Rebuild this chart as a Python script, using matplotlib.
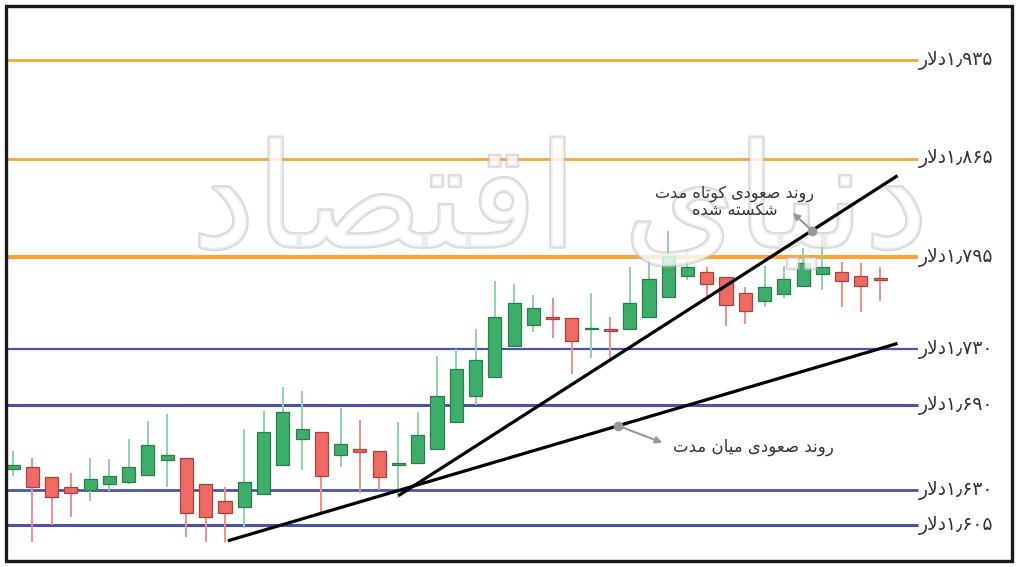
import numpy as np
import matplotlib.pyplot as plt
import matplotlib.patheffects as pe
from matplotlib.patches import Rectangle

plt.rcParams['font.family'] = ['DejaVu Sans']

# candle data (price in dollars)
opens  = [1.645, 1.646, 1.639, 1.632, 1.630, 1.634, 1.636, 1.641, 1.651, 1.653,
          1.634, 1.622, 1.618, 1.627, 1.648, 1.666, 1.671, 1.655, 1.659, 1.658,
          1.648, 1.649, 1.659, 1.678, 1.697, 1.710, 1.732, 1.747, 1.753, 1.752,
          1.744, 1.744, 1.744, 1.753, 1.767, 1.782, 1.785, 1.781, 1.770, 1.764,
          1.769, 1.775, 1.783, 1.785, 1.782, 1.7795]
highs  = [1.658, 1.653, 1.639, 1.642, 1.653, 1.652, 1.666, 1.679, 1.684, 1.653,
          1.634, 1.632, 1.673, 1.686, 1.703, 1.700, 1.671, 1.688, 1.680, 1.658,
          1.678, 1.685, 1.725, 1.730, 1.744, 1.778, 1.776, 1.768, 1.766, 1.752,
          1.770, 1.753, 1.788, 1.795, 1.814, 1.800, 1.788, 1.781, 1.774, 1.789,
          1.789, 1.802, 1.807, 1.792, 1.791, 1.788]
lows   = [1.640, 1.593, 1.605, 1.611, 1.622, 1.629, 1.634, 1.641, 1.632, 1.597,
          1.593, 1.593, 1.603, 1.627, 1.648, 1.644, 1.614, 1.646, 1.628, 1.630,
          1.624, 1.649, 1.659, 1.678, 1.690, 1.710, 1.732, 1.742, 1.738, 1.712,
          1.724, 1.724, 1.744, 1.753, 1.767, 1.779, 1.766, 1.746, 1.748, 1.760,
          1.766, 1.775, 1.772, 1.760, 1.756, 1.764]
closes = [1.648, 1.632, 1.625, 1.628, 1.638, 1.640, 1.646, 1.662, 1.655, 1.614,
          1.611, 1.614, 1.636, 1.671, 1.685, 1.673, 1.640, 1.663, 1.657, 1.639,
          1.649, 1.669, 1.697, 1.716, 1.722, 1.753, 1.763, 1.759, 1.751, 1.736,
          1.745, 1.743, 1.763, 1.780, 1.796, 1.788, 1.776, 1.761, 1.757, 1.774,
          1.780, 1.791, 1.788, 1.778, 1.775, 1.779]

levels = [1.935, 1.865, 1.795, 1.730, 1.690, 1.630, 1.605]
level_colors = ['#F9A53D', '#F9A53D', '#F9A53D', '#4B54A9', '#4B54A9', '#4B54A9', '#4B54A9']
level_widths = [2.0, 2.0, 3.0, 1.6, 2.2, 2.0, 2.2]

# trend lines (candle index, price)
short_x, short_y = [20.0, 45.9], [1.626, 1.853]
mid_x, mid_y = [11.15, 45.9], [1.594, 1.734]

# --- minimal persian shaping (matplotlib draws glyphs left to right, unjoined) ---
FORMS = {
    'ا': ('\uFE8D', '\uFE8E'), 'د': ('\uFEA9', '\uFEAA'),
    'ر': ('\uFEAD', '\uFEAE'), 'و': ('\uFEED', '\uFEEE'),
    '\uFEFB': ('\uFEFB', '\uFEFC'),
    'ن': ('\uFEE5', '\uFEE6', '\uFEE7', '\uFEE8'),
    'ص': ('\uFEB9', '\uFEBA', '\uFEBB', '\uFEBC'),
    'ع': ('\uFEC9', '\uFECA', '\uFECB', '\uFECC'),
    'ت': ('\uFE95', '\uFE96', '\uFE97', '\uFE98'),
    'ه': ('\uFEE9', '\uFEEA', '\uFEEB', '\uFEEC'),
    'م': ('\uFEE1', '\uFEE2', '\uFEE3', '\uFEE4'),
    'ش': ('\uFEB5', '\uFEB6', '\uFEB7', '\uFEB8'),
    'س': ('\uFEB1', '\uFEB2', '\uFEB3', '\uFEB4'),
    'ل': ('\uFEDD', '\uFEDE', '\uFEDF', '\uFEE0'),
    'ق': ('\uFED5', '\uFED6', '\uFED7', '\uFED8'),
    'ک': ('\uFB8E', '\uFB8F', '\uFB90', '\uFB91'),
    'ی': ('\uFBFC', '\uFBFD', '\uFBFE', '\uFBFF'),
}


def farsi(s):
    s = s.replace('لا', '\uFEFB')
    out = []
    for k, c in enumerate(s):
        f = FORMS.get(c)
        if f is None:
            out.append(c)
            continue
        p = FORMS.get(s[k - 1]) if k > 0 else None
        n = FORMS.get(s[k + 1]) if k + 1 < len(s) else None
        jp = p is not None and len(p) == 4
        jn = len(f) == 4 and n is not None
        out.append(f[3] if jp and jn else f[1] if jp else f[2] if jn else f[0])
    return ''.join(out)[::-1]


FA_DIGITS = str.maketrans('0123456789.', '۰۱۲۳۴۵۶۷۸۹٫')

fig = plt.figure(figsize=(10.18, 5.67), dpi=100)
ax = fig.add_axes([0, 0, 1, 1])
ax.set_xlim(-0.675, 52.15)
ax.set_ylim(1.5754, 1.9776)
ax.axis('off')

# price levels
for lv, col, lw in zip(levels, level_colors, level_widths):
    ax.hlines(lv, -0.31, 46.96, color=col, lw=lw, zorder=1)
    ax.text(47.0, lv, farsi('دلار') + f'{lv:.3f}'.translate(FA_DIGITS),
            fontsize=13.5, color='#333333', ha='left', va='center')

# candles
x = np.arange(len(opens))
o, h, l, c = map(np.array, (opens, highs, lows, closes))
up = c >= o
body_col = np.where(up, '#3DAE6A', '#EE6A62')
edge_col = np.where(up, '#2C7D4C', '#A4463F')
wick_col = np.where(up, '#8FD3A8', '#F28C8C')
ax.vlines(x, l, h, colors=wick_col, lw=1.4, zorder=2)
ax.bar(x, np.maximum(np.abs(c - o), 0.0012), bottom=np.minimum(o, c), width=0.68,
       color=body_col, edgecolor=edge_col, linewidth=0.9, zorder=3)

# watermark
ax.text(0.55, 0.635, farsi('دنیای اقتصاد'), transform=ax.transAxes,
        fontsize=104, color='white', alpha=0.55, ha='center', va='center',
        zorder=4, path_effects=[pe.Stroke(linewidth=2.5, foreground='#bbbbbb'), pe.Normal()])

# trend lines
ax.plot(short_x, short_y, color='black', lw=2.3, zorder=5, solid_capstyle='butt')
ax.plot(mid_x, mid_y, color='black', lw=2.3, zorder=5, solid_capstyle='butt')

# annotations
mx = 31.4
my = np.interp(mx, mid_x, mid_y)
ax.plot(mx, my, 'o', color='#999999', ms=6, zorder=6)
ax.annotate('', xy=(mx + 2.3, my - 0.012), xytext=(mx, my),
            arrowprops=dict(arrowstyle='-|>', color='#999999', lw=1.5, shrinkA=3, shrinkB=0), zorder=6)
ax.text(mx + 7.0, my - 0.015, farsi('روند صعودی میان مدت'), fontsize=12,
        color='#333333', ha='center', va='center', zorder=6)

sx = 41.46
sy = np.interp(sx, short_x, short_y)
ax.plot(sx, sy, 'o', color='#999999', ms=6, zorder=6)
ax.annotate('', xy=(sx - 1.0, sy + 0.0125), xytext=(sx, sy),
            arrowprops=dict(arrowstyle='-|>', color='#999999', lw=1.5, shrinkA=3, shrinkB=0), zorder=6)
ax.text(sx - 4.0, sy + 0.0205,
        farsi('روند صعودی کوتاه مدت') + '\n' + farsi('شکسته شده'),
        fontsize=11.5, color='#333333', ha='center', va='center',
        multialignment='center', linespacing=1.05, zorder=6)

# outer frame
fig.patches.append(Rectangle((6 / 1018, 6 / 567), 1006 / 1018, 555 / 567,
                             transform=fig.transFigure, fill=False, ec='#1a1a1a', lw=2.4))

fig.savefig('out.png', dpi=100)
